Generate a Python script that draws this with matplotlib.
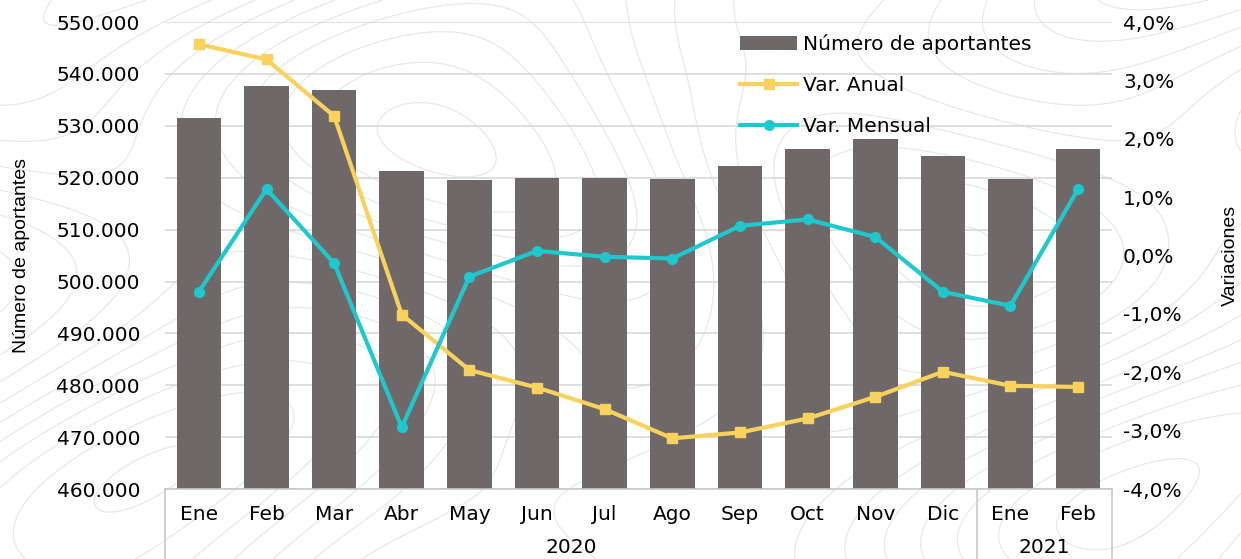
import numpy as np
import matplotlib
matplotlib.use('Agg')
from matplotlib import pyplot as plt
from matplotlib.ticker import FuncFormatter

plt.rcParams['font.family'] = ['DejaVu Sans']

# Data
meses = ['Ene', 'Feb', 'Mar', 'Abr', 'May', 'Jun', 'Jul', 'Ago', 'Sep', 'Oct', 'Nov', 'Dic', 'Ene', 'Feb']
anios = ['2020', '2021']
meses_por_anio = [12, 2]
aportantes = [531500, 537700, 537000, 521300, 519500, 519900, 519900, 519700,
              522300, 525500, 527450, 524200, 519700, 525500]
var_anual = [3.62, 3.36, 2.39, -1.01, -1.96, -2.26, -2.63, -3.13, -3.03, -2.79, -2.42, -1.99, -2.23, -2.25]
var_mensual = [-0.62, 1.14, -0.13, -2.94, -0.36, 0.08, -0.02, -0.05, 0.51, 0.62, 0.32, -0.62, -0.86, 1.14]

col_bar = '#6f6868'
col_anual = '#f9d25e'
col_mensual = '#1ec8cc'
col_grid = '#d9d9d9'
fs = 14.5

fig = plt.figure(figsize=(12.41, 5.59), dpi=100)

# faint contour watermark in the background
bg = fig.add_axes([0, 0, 1, 1], zorder=-5)
gx, gy = np.meshgrid(np.linspace(0, 12.4, 400), np.linspace(0, 5.6, 200))
field = (np.sin(gx * 0.9 + np.cos(gy * 1.3)) + np.cos(gy * 1.1 - gx * 0.35)
         + 0.6 * np.sin(gx * 0.4 + gy * 0.8))
bg.contour(gx, gy, field, levels=14, colors='#e8e8e8', linewidths=0.9, linestyles='solid')
bg.set_axis_off()

ax = fig.add_axes([0.133, 0.125, 0.763, 0.8355])
ax.patch.set_alpha(0)
x = np.arange(len(meses))

ax.bar(x, aportantes, width=0.66, color=col_bar, zorder=2, label='Número de aportantes')
ax.set_xlim(-0.5, len(meses) - 0.5)
ax.set_ylim(460000, 550000)
ax.set_yticks(np.arange(460000, 550001, 10000))
ax.yaxis.set_major_formatter(FuncFormatter(lambda v, p: f'{int(v):,}'.replace(',', '.')))
ax.grid(axis='y', color=col_grid, lw=1.2, zorder=0)
ax.set_axisbelow(True)
for s in ['top', 'right', 'left']:
    ax.spines[s].set_visible(False)
ax.spines['bottom'].set_color('#c8c8c8')
ax.spines['bottom'].set_linewidth(1.2)
ax.tick_params(axis='y', length=0, pad=18, labelsize=fs)
ax.set_xticks([])
ax.set_ylabel('Número de aportantes', fontsize=14, family='Liberation Sans')
ax.yaxis.set_label_coords(-0.143, 0.5)

# two-level category axis
trans = ax.get_xaxis_transform()
for i, m in enumerate(meses):
    ax.text(i, -0.054, m, transform=trans, ha='center', va='center', fontsize=fs)
start = 0
bounds = [-0.5]
for a, n in zip(anios, meses_por_anio):
    ax.text(start + (n - 1) / 2, -0.125, a, transform=trans, ha='center', va='center', fontsize=fs)
    start += n
    bounds.append(start - 0.5)
for b in bounds:
    ax.plot([b, b], [0, -0.16], transform=trans, color='#c8c8c8', lw=1.2, clip_on=False)

ax2 = ax.twinx()
ax2.plot(x, var_anual, color=col_anual, lw=3, marker='s', ms=7, label='Var. Anual', zorder=3)
ax2.plot(x, var_mensual, color=col_mensual, lw=3, marker='o', ms=7, label='Var. Mensual', zorder=3)
ax2.set_ylim(-4, 4)
ax2.set_yticks(np.arange(-4, 4.01, 1))
ax2.yaxis.set_major_formatter(FuncFormatter(lambda v, p: f'{v:.1f}%'.replace('.', ',')))
ax2.tick_params(axis='y', length=0, pad=8, labelsize=fs)
for s in ax2.spines.values():
    s.set_visible(False)
ax2.set_ylabel('Variaciones', fontsize=14, family='Liberation Sans')
ax2.yaxis.set_label_coords(1.116, 0.5)

h1, l1 = ax.get_legend_handles_labels()
h2, l2 = ax2.get_legend_handles_labels()
ax2.legend(h1 + h2, l1 + l2, loc='upper left', bbox_to_anchor=(0.607, 0.975),
           frameon=False, fontsize=fs, handlelength=2.85, handletextpad=0.3,
           labelspacing=1.1, borderpad=0, borderaxespad=0)

fig.savefig('out.png', dpi=100)
